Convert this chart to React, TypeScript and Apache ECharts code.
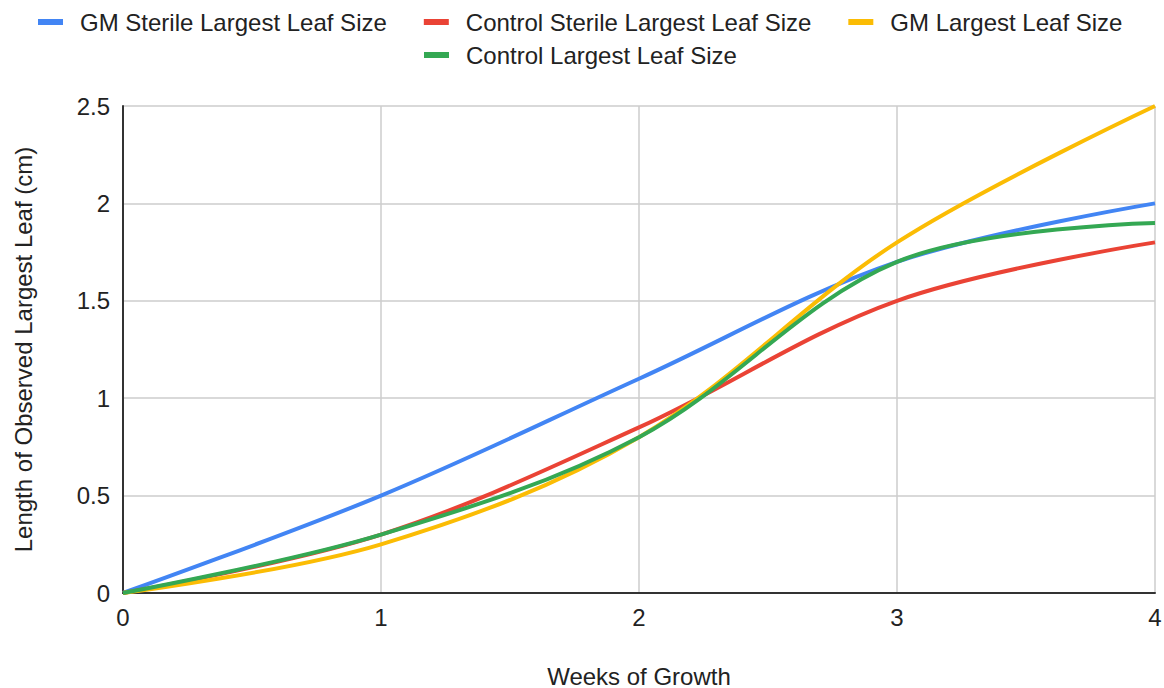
import React, { useEffect, useRef } from "react";
import * as echarts from "echarts";

const weeks = [0, 1, 2, 3, 4];
const gmSterile = [0, 0.5, 1.1, 1.7, 2.0];
const controlSterile = [0, 0.3, 0.85, 1.5, 1.8];
const gmPlain = [0, 0.25, 0.8, 1.8, 2.5];
const controlPlain = [0, 0.3, 0.8, 1.7, 1.9];

const seriesNames = [
  "GM Sterile Largest Leaf Size",
  "Control Sterile Largest Leaf Size",
  "GM Largest Leaf Size",
  "Control Largest Leaf Size",
];
const seriesValues = [gmSterile, controlSterile, gmPlain, controlPlain];
const seriesColors = ["#4285F4", "#EA4335", "#FBBC04", "#34A853"];

const FONT = "Arial, 'Liberation Sans', sans-serif";

export default function App() {
  const ref = useRef<HTMLDivElement>(null);
  useEffect(() => {
    if (!ref.current) return;
    document.body.style.margin = "0";
    document.body.style.overflow = "hidden";
    const chart = echarts.init(ref.current, undefined, { renderer: "svg" });
    const legendText = {
      fontSize: 24,
      fontFamily: FONT,
      color: "#222222",
      lineHeight: 24,
      padding: [0, 0, 0, 12],
    };
    chart.setOption({
      animation: false,
      backgroundColor: "#ffffff",
      textStyle: { fontFamily: FONT },
      legend: [
        {
          data: seriesNames.slice(0, 3),
          left: 38,
          top: 10,
          padding: 0,
          icon: "rect",
          itemWidth: 25,
          itemHeight: 6,
          itemGap: 37,
          textStyle: legendText,
          selectedMode: false,
        },
        {
          data: seriesNames.slice(3),
          left: 424,
          top: 43,
          padding: 0,
          icon: "rect",
          itemWidth: 25,
          itemHeight: 6,
          itemGap: 37,
          textStyle: legendText,
          selectedMode: false,
        },
      ],
      grid: {
        left: 123,
        right: 9,
        top: 106,
        bottom: 95,
        containLabel: false,
        outerBoundsMode: "none",
      },
      xAxis: {
        type: "value",
        min: 0,
        max: 4,
        interval: 1,
        name: "Weeks of Growth",
        nameLocation: "middle",
        nameGap: 71,
        nameTextStyle: { fontSize: 24, color: "#222222", fontFamily: FONT },
        axisLine: { show: true, lineStyle: { color: "#333333", width: 2 } },
        axisTick: { show: false },
        axisLabel: { fontSize: 24, color: "#222222", margin: 12, fontFamily: FONT },
        splitLine: { show: true, lineStyle: { color: "#cccccc", width: 1.5 } },
      },
      yAxis: {
        type: "value",
        min: 0,
        max: 2.5,
        interval: 0.5,
        name: "Length of Observed Largest Leaf (cm)",
        nameLocation: "middle",
        nameGap: 88,
        nameTextStyle: { fontSize: 24, color: "#222222", fontFamily: FONT },
        axisLine: { show: true, lineStyle: { color: "#333333", width: 2 } },
        axisTick: { show: false },
        axisLabel: { fontSize: 24, color: "#222222", margin: 13, fontFamily: FONT },
        splitLine: { show: true, lineStyle: { color: "#cccccc", width: 1.5 } },
      },
      series: seriesNames.map((name, i) => ({
        name,
        type: "line",
        smooth: 0.35,
        showSymbol: false,
        symbol: "none",
        data: weeks.map((w, j) => [w, seriesValues[i][j]]),
        lineStyle: { color: seriesColors[i], width: 4 },
        itemStyle: { color: seriesColors[i] },
        z: 2 + i,
      })),
    });
    return () => chart.dispose();
  }, []);
  return (
    <div
      ref={ref}
      style={{ position: "fixed", left: 0, top: 0, width: 1164, height: 688 }}
    />
  );
}
